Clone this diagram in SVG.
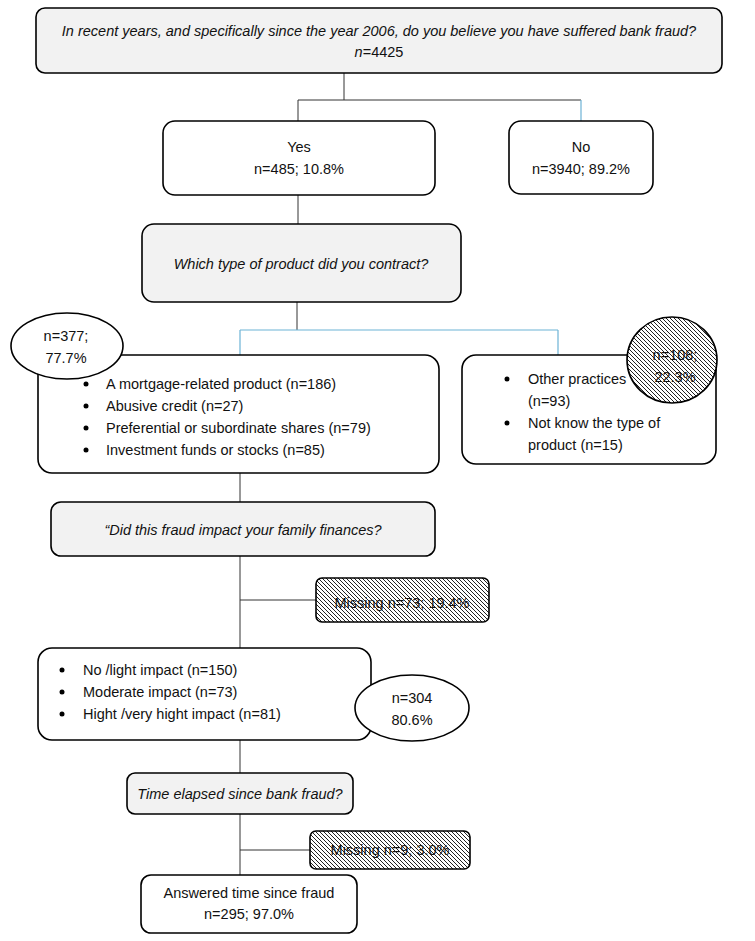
<svg xmlns="http://www.w3.org/2000/svg" width="755" height="941" viewBox="0 0 755 941">
<defs>
<pattern id="hatch" patternUnits="userSpaceOnUse" width="4" height="4">
<rect width="4" height="4" fill="#fff"/>
<path d="M-1,-1 L5,5 M-1,3 L1,5 M3,-1 L5,1" stroke="#222" stroke-width="1"/>
</pattern>
<style>
.box{fill:#fff;stroke:#000;stroke-width:1.6}
.q{fill:#f2f2f2;stroke:#000;stroke-width:1.6}
.h{fill:url(#hatch);stroke:#000;stroke-width:1.6}
.c{stroke:#333;stroke-width:1;fill:none}
.b{stroke:#6db3d6;stroke-width:1.2;fill:none}
text{font-family:"Liberation Sans",Arial,sans-serif;font-size:14.5px;fill:#111}
.m{text-anchor:middle}
.i{font-style:italic}
</style>
</defs>
<g id="connectors">
<path class="c" d="M344,73 V100 M298,100 H581 M298,100 V121"/>
<path class="b" d="M581,100 V121"/>
<path class="c" d="M298,195 V224"/>
<path class="c" d="M297,302 V330"/>
<path class="b" d="M240,330 H558 M240,330 V355 M558,330 V355"/>
<path class="c" d="M240,473 V502"/>
<path class="c" d="M240,556 V648 M240,600 H316"/>
<path class="c" d="M240,740 V773"/>
<path class="c" d="M240,814 V876 M240,850 H310"/>
</g>
<g id="q1">
<rect class="q" x="36" y="8" width="686" height="65" rx="9"/>
<text class="m i" x="379" y="36">In recent years, and specifically since the year 2006, do you believe you have suffered bank fraud?</text>
<text class="m" x="379" y="57"><tspan class="i">n</tspan>=4425</text>
</g>
<g id="yes">
<rect class="box" x="163" y="121" width="272" height="74" rx="12"/>
<text class="m" x="299" y="152">Yes</text>
<text class="m" x="299" y="174">n=485; 10.8%</text>
</g>
<g id="no">
<rect class="box" x="509" y="121" width="144" height="73" rx="12"/>
<text class="m" x="581" y="152">No</text>
<text class="m" x="581" y="174">n=3940; 89.2%</text>
</g>
<g id="q2">
<rect class="q" x="142" y="224" width="319" height="78" rx="12"/>
<text class="m i" x="301" y="269">Which type of product did you contract?</text>
</g>
<g id="products">
<rect class="box" x="38" y="355" width="401" height="118" rx="14"/>
<g>
<circle cx="86" cy="384" r="2.5" fill="#000"/>
<circle cx="86" cy="406" r="2.5" fill="#000"/>
<circle cx="86" cy="428" r="2.5" fill="#000"/>
<circle cx="86" cy="450" r="2.5" fill="#000"/>
</g>
<text x="106" y="389">A mortgage-related product (n=186)</text>
<text x="106" y="411">Abusive credit (n=27)</text>
<text x="106" y="433">Preferential or subordinate shares (n=79)</text>
<text x="106" y="455">Investment funds or stocks (n=85)</text>
</g>
<g id="n377">
<ellipse class="box" cx="67" cy="346" rx="56" ry="33"/>
<text class="m" x="66" y="341">n=377;</text>
<text class="m" x="66" y="363">77.7%</text>
</g>
<g id="other">
<rect class="box" x="462" y="355" width="254" height="109" rx="14"/>
<circle cx="507" cy="379" r="2.5" fill="#000"/>
<circle cx="507" cy="423" r="2.5" fill="#000"/>
<text x="528" y="384">Other practices</text>
<text x="528" y="406">(n=93)</text>
<text x="528" y="428">Not know the type of</text>
<text x="528" y="450">product (n=15)</text>
</g>
<g id="n108">
<ellipse class="h" cx="672" cy="360" rx="45" ry="43"/>
<text class="m" x="675" y="360">n=108;</text>
<text class="m" x="675" y="382">22.3%</text>
</g>
<g id="q3">
<rect class="q" x="51" y="502" width="384" height="54" rx="10"/>
<text class="m i" x="243" y="535">“Did this fraud impact your family finances?</text>
</g>
<g id="missing1">
<rect class="h" x="316" y="578" width="173" height="44" rx="6"/>
<text class="m" x="402" y="608">Missing n=73; 19.4%</text>
</g>
<g id="impact">
<rect class="box" x="38" y="648" width="333" height="92" rx="14"/>
<circle cx="62" cy="670" r="2.5" fill="#000"/>
<circle cx="62" cy="692" r="2.5" fill="#000"/>
<circle cx="62" cy="714" r="2.5" fill="#000"/>
<text x="83" y="675">No /light impact (n=150)</text>
<text x="83" y="697">Moderate impact (n=73)</text>
<text x="83" y="719">Hight /very hight impact (n=81)</text>
</g>
<g id="n304">
<ellipse class="box" cx="412" cy="708" rx="57" ry="33"/>
<text class="m" x="412" y="703">n=304</text>
<text class="m" x="412" y="725">80.6%</text>
</g>
<g id="q4">
<rect class="q" x="127" y="773" width="226" height="41" rx="8"/>
<text class="m i" x="240" y="799">Time elapsed since bank fraud?</text>
</g>
<g id="missing2">
<rect class="h" x="310" y="831" width="160" height="38" rx="6"/>
<text class="m" x="390" y="855">Missing n=9; 3.0%</text>
</g>
<g id="answered">
<rect class="box" x="141" y="875" width="216" height="58" rx="10"/>
<text class="m" x="249" y="898">Answered time since fraud</text>
<text class="m" x="249" y="919">n=295; 97.0%</text>
</g>
</svg>
